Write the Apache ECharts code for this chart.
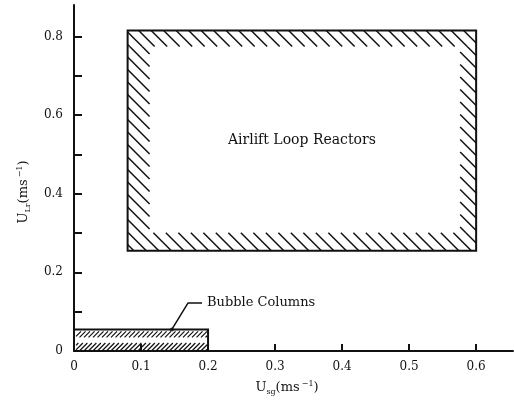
<!DOCTYPE html>
<html>
<head>
<meta charset="utf-8">
<script src="https://cdn.jsdelivr.net/npm/echarts@6/dist/echarts.min.js"></script>
<style>html,body{margin:0;padding:0;background:#fff}#c{width:514px;height:406px}</style>
</head>
<body>
<div id="c"></div>
<script>
// ---- data ----
const xTickValues = [0, 0.1, 0.2, 0.3, 0.4, 0.5, 0.6];
const yTickValues = [0, 0.1, 0.2, 0.3, 0.4, 0.5, 0.6, 0.7, 0.8];
const yLabelValues = [0, 0.2, 0.4, 0.6, 0.8];
const regionNames = ['Airlift Loop Reactors', 'Bubble Columns'];
const airliftX = [0.08, 0.6];
const airliftY = [0.255, 0.815];
const bubbleX = [0, 0.2];
const bubbleY = [0, 0.055];
const bubbleLeaderX = [0.146, 0.17, 0.191];
const bubbleLeaderY = [0.055, 0.122, 0.122];

const INK = '#111';
const FONT = '"DejaVu Serif", "Liberation Serif", serif';

function hatchInRect(rx0, ry0, rx1, ry1, dir, spacing, gx0, gy0, gx1, gy1, lw) {
  // dir 'back' : y = x + c (\), 'fwd': y = -x + c (/)
  const out = [];
  if (dir === 'back') {
    for (let c = gy0 - gx1; c <= gy1 - gx0; c += spacing) {
      const a = Math.max(rx0, ry0 - c), b = Math.min(rx1, ry1 - c);
      if (b - a > 0.5) out.push({type: 'line', shape: {x1: a, y1: a + c, x2: b, y2: b + c},
        style: {stroke: INK, lineWidth: lw}});
    }
  } else {
    for (let c = gy0 + gx0; c <= gy1 + gx1; c += spacing) {
      const a = Math.max(rx0, c - ry1), b = Math.min(rx1, c - ry0);
      if (b - a > 0.5) out.push({type: 'line', shape: {x1: a, y1: c - a, x2: b, y2: c - b},
        style: {stroke: INK, lineWidth: lw}});
    }
  }
  return out;
}

function renderAirlift(params, api) {
  const p0 = api.coord([api.value(0), api.value(3)]);
  const p1 = api.coord([api.value(2), api.value(1)]);
  const x0 = p0[0], y0 = p0[1], x1 = p1[0], y1 = p1[1];
  const bt = 16, bb = 18, bl = 22, br = 16, sp = 12.5;
  let ch = [];
  ch = ch.concat(hatchInRect(x0, y0, x1, y0 + bt, 'back', sp, x0, y0, x1, y1, 1.5));
  ch = ch.concat(hatchInRect(x0, y1 - bb, x1, y1, 'back', sp, x0, y0, x1, y1, 1.5));
  ch = ch.concat(hatchInRect(x0, y0 + bt, x0 + bl, y1 - bb, 'back', sp, x0, y0, x1, y1, 1.5));
  ch = ch.concat(hatchInRect(x1 - br, y0 + bt, x1, y1 - bb, 'back', sp, x0, y0, x1, y1, 1.5));
  ch.push({type: 'rect', shape: {x: x0, y: y0, width: x1 - x0, height: y1 - y0},
    style: {fill: 'none', stroke: INK, lineWidth: 2}});
  ch.push({type: 'text', x: (x0 + x1) / 2, y: (y0 + y1) / 2,
    style: {text: regionNames[0], fill: INK, font: '14px ' + FONT, align: 'center', verticalAlign: 'middle'}});
  return {type: 'group', children: ch};
}

function renderBubble(params, api) {
  const p0 = api.coord([api.value(0), api.value(3)]);
  const p1 = api.coord([api.value(2), api.value(1)]);
  const x0 = p0[0], y0 = p0[1], x1 = p1[0], y1 = p1[1];
  let ch = [];
  ch = ch.concat(hatchInRect(x0 + 2, y0 + 2, x1 - 1, y0 + 8, 'fwd', 4.5, x0, y0, x1, y1, 1.3));
  ch = ch.concat(hatchInRect(x0 + 2, y1 - 8, x1 - 1, y1, 'fwd', 4.5, x0, y0, x1, y1, 1.3));
  ch.push({type: 'polyline', shape: {points: [[x0, y0], [x1, y0], [x1, y1]]},
    style: {fill: 'none', stroke: INK, lineWidth: 2}});
  return {type: 'group', children: ch};
}

const chart = echarts.init(document.getElementById('c'), null, {renderer: 'canvas'});
chart.setOption({
  backgroundColor: '#fff',
  animation: false,
  grid: {left: 74, right: 1, top: 5, bottom: 55},
  xAxis: {
    type: 'value', min: 0, max: 0.655,
    axisLine: {show: true, lineStyle: {color: INK, width: 2}},
    axisTick: {show: true, inside: true, length: 7, customValues: xTickValues, lineStyle: {color: INK, width: 2}},
    axisLabel: {customValues: xTickValues, margin: 10, color: INK, fontFamily: FONT, fontSize: 12,
      formatter: v => (v === 0 ? '0' : v.toFixed(1))},
    splitLine: {show: false}
  },
  yAxis: {
    type: 'value', min: 0, max: 0.88,
    axisLine: {show: true, lineStyle: {color: INK, width: 2}},
    axisTick: {show: true, inside: true, length: 8, customValues: yTickValues, lineStyle: {color: INK, width: 2}},
    axisLabel: {customValues: yLabelValues, margin: 11, color: INK, fontFamily: FONT, fontSize: 12,
      formatter: v => (v === 0 ? '0' : v.toFixed(1))},
    splitLine: {show: false}
  },
  graphic: [
    {type: 'text', x: 24, y: 192, rotation: Math.PI / 2,
      style: {text: '{u|U}{s|Lr}{u|(ms}{p|−1}{u|)}', align: 'center', verticalAlign: 'middle', fill: INK,
        rich: {u: {fontFamily: FONT, fontSize: 13, fill: INK},
               s: {fontFamily: FONT, fontSize: 8, fill: INK, padding: [7, 0, 0, 0]},
               p: {fontFamily: FONT, fontSize: 8, fill: INK, padding: [0, 0, 8, 2]}}}},
    {type: 'text', x: 287, y: 388,
      style: {text: '{u|U}{s|sg}{u|(ms}{p|−1}{u|)}', align: 'center', verticalAlign: 'middle', fill: INK,
        rich: {u: {fontFamily: FONT, fontSize: 13, fill: INK},
               s: {fontFamily: FONT, fontSize: 8, fill: INK, padding: [7, 0, 0, 0]},
               p: {fontFamily: FONT, fontSize: 8, fill: INK, padding: [0, 0, 8, 2]}}}}
  ],
  series: [
    {type: 'custom', name: regionNames[0], renderItem: renderAirlift, clip: false,
      encode: {x: [0, 2], y: [1, 3]},
      data: [[airliftX[0], airliftY[0], airliftX[1], airliftY[1]]]},
    {type: 'custom', name: regionNames[1], renderItem: renderBubble, clip: false,
      encode: {x: [0, 2], y: [1, 3]},
      data: [[bubbleX[0], bubbleY[0], bubbleX[1], bubbleY[1]]]},
    {type: 'line', data: bubbleLeaderX.map((x, i) => [x, bubbleLeaderY[i]]),
      showSymbol: false, lineStyle: {color: INK, width: 1.5},
      endLabel: {show: true, formatter: regionNames[1], color: INK, fontFamily: FONT, fontSize: 13, distance: 5}},
    {type: 'scatter', data: [[bubbleLeaderX[0], bubbleLeaderY[0]]], symbolSize: 4,
      itemStyle: {color: INK}}
  ]
});
</script>
</body>
</html>
